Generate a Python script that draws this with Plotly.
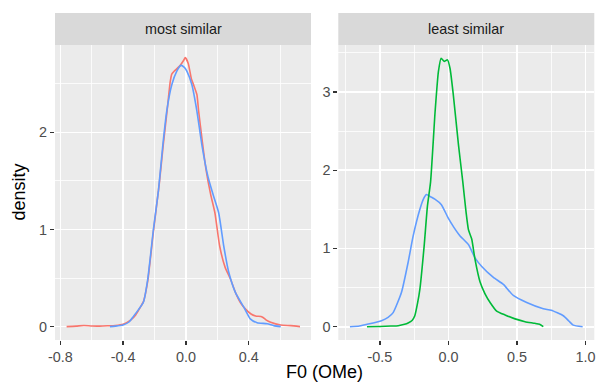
import plotly.graph_objects as go

# ---- data: density curves ----
ms_red_x = [-0.76, -0.70, -0.65, -0.60, -0.55, -0.50, -0.45, -0.40, -0.35, -0.32, -0.29, -0.27,
            -0.243, -0.207, -0.169, -0.145, -0.12, -0.10, -0.09, -0.075, -0.055, -0.036, -0.015,
            -0.004, 0.015, 0.035, 0.049, 0.07, 0.081, 0.105, 0.128, 0.158, 0.185, 0.215, 0.25,
            0.284, 0.316, 0.35, 0.38, 0.415, 0.444, 0.486, 0.51, 0.54, 0.604, 0.668, 0.727]
ms_red_y = [0.0, 0.005, 0.012, 0.006, 0.005, 0.008, 0.012, 0.025, 0.07, 0.12, 0.20, 0.26,
            0.47, 0.98, 1.48, 1.86, 2.22, 2.52, 2.60, 2.63, 2.66, 2.69, 2.74,
            2.77, 2.71, 2.55, 2.49, 2.39, 2.22, 1.90, 1.62, 1.36, 1.17, 0.83, 0.61,
            0.49, 0.35, 0.24, 0.18, 0.13, 0.11, 0.10, 0.07, 0.045, 0.017, 0.01, 0.0]

ms_blue_x = [-0.484, -0.45, -0.40, -0.36, -0.337, -0.30, -0.271, -0.243, -0.207, -0.175, -0.147,
             -0.122, -0.09, -0.058, -0.032, -0.01, 0.006, 0.038, 0.07, 0.102, 0.141, 0.173,
             0.209, 0.241, 0.273, 0.316, 0.369, 0.41, 0.454, 0.518, 0.56, 0.604]
ms_blue_y = [0.0, 0.005, 0.017, 0.05, 0.10, 0.18, 0.25, 0.49, 1.00, 1.40, 1.87,
             2.22, 2.49, 2.63, 2.69, 2.67, 2.63, 2.49, 2.22, 1.87, 1.54, 1.36,
             1.17, 0.83, 0.56, 0.35, 0.20, 0.08, 0.04, 0.03, 0.01, 0.0]

ls_green_x = [-0.594, -0.50, -0.42, -0.366, -0.32, -0.294, -0.265, -0.245, -0.225, -0.208, -0.177,
              -0.153, -0.13, -0.097, -0.073, -0.053, -0.031, -0.007, 0.012, 0.036, 0.073, 0.105,
              0.129, 0.146, 0.170, 0.194, 0.231, 0.267, 0.304, 0.352, 0.413, 0.486, 0.559, 0.631,
              0.665, 0.692]
ls_green_y = [0.0, 0.003, 0.008, 0.013, 0.03, 0.047, 0.08, 0.14, 0.30, 0.48, 1.03,
              1.54, 1.85, 2.75, 3.26, 3.43, 3.39, 3.41, 3.30, 2.96, 2.33, 1.85,
              1.46, 1.24, 1.12, 0.86, 0.57, 0.42, 0.31, 0.20, 0.15, 0.10, 0.064, 0.043,
              0.03, 0.0]

ls_blue_x = [-0.718, -0.65, -0.585, -0.488, -0.44, -0.403, -0.342, -0.294, -0.257, -0.208, -0.180,
             -0.160, -0.13, -0.099, -0.051, -0.002, 0.04, 0.085, 0.146, 0.194, 0.243, 0.328,
             0.401, 0.473, 0.571, 0.692, 0.75, 0.838, 0.88, 0.91, 0.979]
ls_blue_y = [0.0, 0.01, 0.034, 0.077, 0.12, 0.18, 0.44, 0.82, 1.16, 1.50, 1.64,
             1.69, 1.66, 1.63, 1.56, 1.39, 1.27, 1.16, 1.05, 0.88, 0.77, 0.63,
             0.54, 0.40, 0.31, 0.23, 0.21, 0.14, 0.07, 0.02, 0.0]

panel_titles = ["most similar", "least similar"]
x_title = "F0 (OMe)"
y_title = "density"

left_xticks = [-0.8, -0.4, 0.0, 0.4]
left_xtick_text = ["-0.8", "-0.4", "0.0", "0.4"]
left_xminor = [-0.6, -0.2, 0.2, 0.6]
left_yticks = [0, 1, 2]
left_yminor = [0.5, 1.5, 2.5]
right_xticks = [-0.5, 0.0, 0.5, 1.0]
right_xtick_text = ["-0.5", "0.0", "0.5", "1.0"]
right_xminor = [-0.75, -0.25, 0.25, 0.75]
right_yticks = [0, 1, 2, 3]
right_yminor = [0.5, 1.5, 2.5, 3.5]

RED, GREEN, BLUE = "#F8766D", "#00BA38", "#619CFF"

W, H = 603, 388
def fx(p): return p / W
def fy(p): return 1 - p / H

FONT = "Liberation Sans, Arial, sans-serif"

fig = go.Figure()
LW = 1.6
def curve(x, y, color, xa, ya):
    return go.Scatter(x=x, y=y, mode="lines",
                      line=dict(color=color, width=LW, shape="spline", smoothing=0.5),
                      xaxis=xa, yaxis=ya, showlegend=False, hoverinfo="skip")

fig.add_trace(curve(ms_red_x, ms_red_y, RED, "x", "y"))
fig.add_trace(curve(ms_blue_x, ms_blue_y, BLUE, "x", "y"))
fig.add_trace(curve(ls_blue_x, ls_blue_y, BLUE, "x2", "y2"))
fig.add_trace(curve(ls_green_x, ls_green_y, GREEN, "x2", "y2"))

tickfont = dict(family=FONT, size=14.4, color="#4D4D4D")
common = dict(showgrid=True, gridcolor="white", gridwidth=1.6, zeroline=False, showline=False,
              ticks="outside", ticklen=4, tickwidth=1.3, tickcolor="#333333", tickfont=tickfont,
              automargin=False)

def mk_minor(vals):
    return dict(tickvals=vals, showgrid=True, gridcolor="white", gridwidth=0.8, ticks="")

ydom = [fy(340), fy(45)]
lx = [fx(55), fx(311)]
rx = [fx(338.3), fx(594.3)]

fig.update_layout(
    width=W, height=H, margin=dict(l=0, r=0, t=0, b=0, autoexpand=False),
    paper_bgcolor="white", plot_bgcolor="#EBEBEB",
    font=dict(family=FONT),
    xaxis=dict(domain=lx, range=[-0.834, 0.797], tickvals=left_xticks, ticktext=left_xtick_text,
               minor=mk_minor(left_xminor), anchor="y", **common),
    yaxis=dict(domain=ydom, range=[-0.138, 2.9], tickvals=left_yticks,
               minor=mk_minor(left_yminor), anchor="x", **common),
    xaxis2=dict(domain=rx, range=[-0.803, 1.064], tickvals=right_xticks, ticktext=right_xtick_text,
                minor=mk_minor(right_xminor), anchor="y2", **common),
    yaxis2=dict(domain=ydom, range=[-0.17, 3.6], tickvals=right_yticks,
                minor=mk_minor(right_yminor), anchor="x2", **common),
)

# strips
for (x0, x1), title in zip([(55, 311), (338.3, 594.3)], panel_titles):
    fig.add_shape(type="rect", xref="paper", yref="paper", x0=fx(x0), x1=fx(x1), y0=fy(45), y1=fy(13),
                  fillcolor="#D9D9D9", line=dict(width=0), layer="below")
    fig.add_annotation(xref="paper", yref="paper", x=fx((x0 + x1) / 2), y=fy(29), text=title,
                       showarrow=False, font=dict(family=FONT, size=14.4, color="#1A1A1A"),
                       xanchor="center", yanchor="middle")

fig.add_annotation(xref="paper", yref="paper", x=fx(324.6), y=fy(372), text=x_title, showarrow=False,
                   font=dict(family=FONT, size=18, color="black"), xanchor="center", yanchor="middle")
fig.add_annotation(xref="paper", yref="paper", x=fx(18), y=fy(192.5), text=y_title, showarrow=False,
                   textangle=-90, font=dict(family=FONT, size=18, color="black"),
                   xanchor="center", yanchor="middle")

fig.write_html("out.html", config={"displayModeBar": False, "staticPlot": True},
               post_script="document.body.style.margin='0';document.body.style.overflow='hidden';")
